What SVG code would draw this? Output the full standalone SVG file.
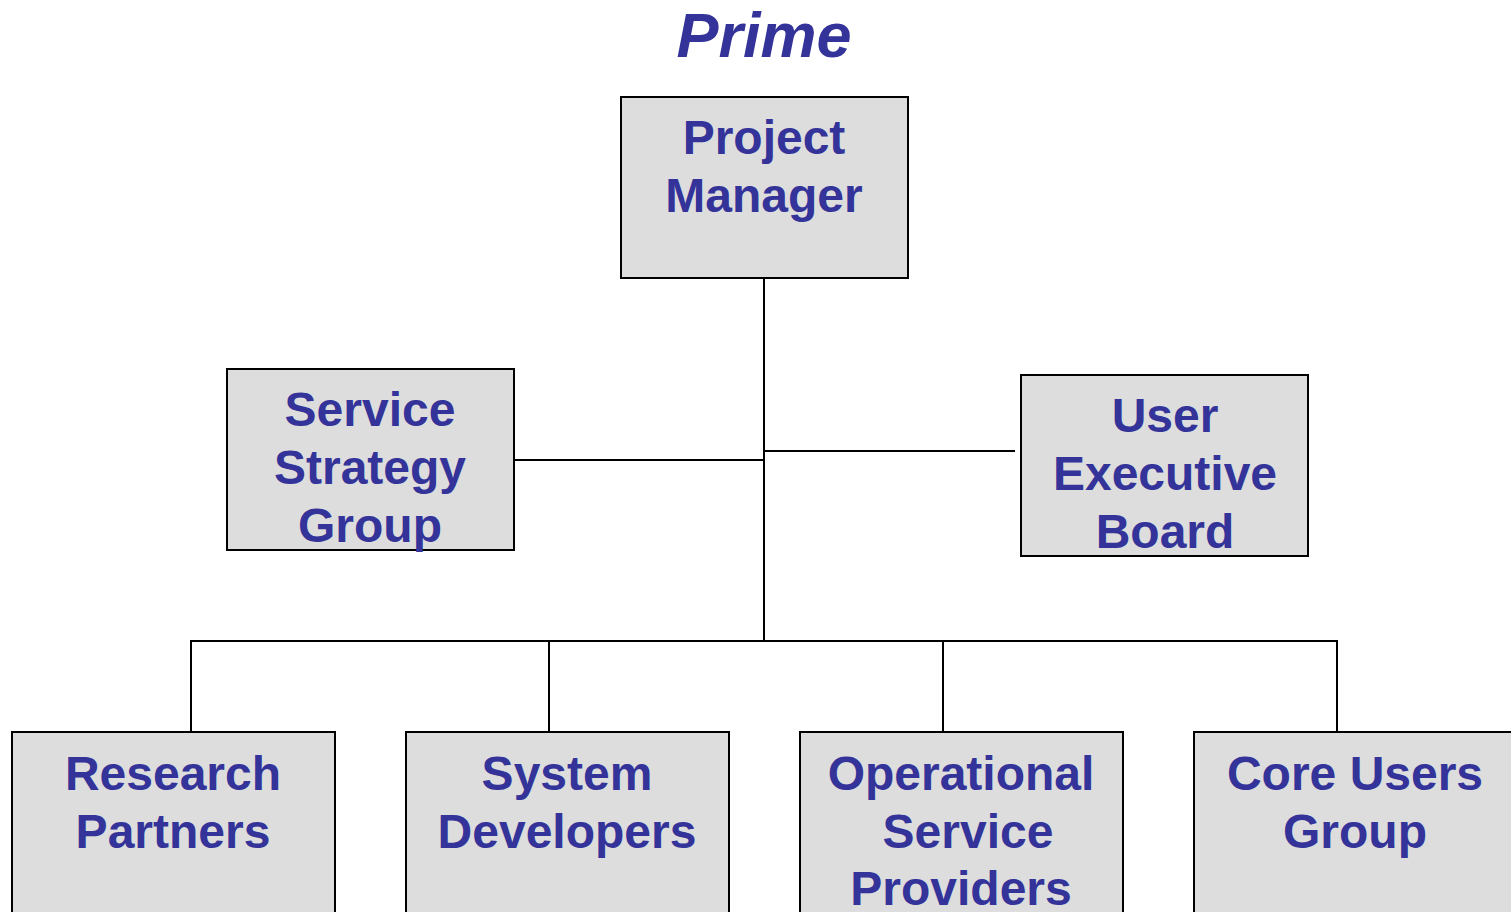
<svg xmlns="http://www.w3.org/2000/svg" width="1511" height="912" viewBox="0 0 1511 912">
<style>
.box{fill:#dddddd;stroke:#000;stroke-width:2}
.t{font-family:"Liberation Sans",Arial,sans-serif;font-weight:bold;font-size:48px;fill:#333399;text-anchor:middle}
.title{font-family:"Liberation Sans",Arial,sans-serif;font-weight:bold;font-style:italic;font-size:63px;fill:#333399;text-anchor:middle}
.c{stroke:#000;stroke-width:2;fill:none}
</style>
<rect width="1511" height="912" fill="#fff"/>
<text class="title" x="764" y="57">Prime</text>
<g id="connectors">
<line class="c" x1="764" y1="278" x2="764" y2="641"/>
<line class="c" x1="514" y1="460" x2="764" y2="460"/>
<line class="c" x1="764" y1="451" x2="1015" y2="451"/>
<polyline class="c" points="191,732 191,641 1337,641 1337,732"/>
<line class="c" x1="549" y1="641" x2="549" y2="732"/>
<line class="c" x1="943" y1="641" x2="943" y2="732"/>
</g>
<g id="project-manager">
<rect class="box" x="621" y="97" width="287" height="181"/>
<text class="t" x="764" y="154">Project</text>
<text class="t" x="764" y="212">Manager</text>
</g>
<g id="service-strategy-group">
<rect class="box" x="227" y="369" width="287" height="181"/>
<text class="t" x="370" y="426">Service</text>
<text class="t" x="370" y="484">Strategy</text>
<text class="t" x="370" y="542">Group</text>
</g>
<g id="user-executive-board">
<rect class="box" x="1021" y="375" width="287" height="181"/>
<text class="t" x="1165" y="432">User</text>
<text class="t" x="1165" y="490">Executive</text>
<text class="t" x="1165" y="548">Board</text>
</g>
<g id="research-partners">
<rect class="box" x="12" y="732" width="323" height="200"/>
<text class="t" x="173" y="790">Research</text>
<text class="t" x="173" y="848">Partners</text>
</g>
<g id="system-developers">
<rect class="box" x="406" y="732" width="323" height="200"/>
<text class="t" x="567" y="790">System</text>
<text class="t" x="567" y="848">Developers</text>
</g>
<g id="operational-service-providers">
<rect class="box" x="800" y="732" width="323" height="200"/>
<text class="t" x="961" y="790">Operational</text>
<text class="t" x="968" y="848">Service</text>
<text class="t" x="961" y="905">Providers</text>
</g>
<g id="core-users-group">
<rect class="box" x="1194" y="732" width="323" height="200"/>
<text class="t" x="1355" y="790">Core Users</text>
<text class="t" x="1355" y="848">Group</text>
</g>
</svg>
